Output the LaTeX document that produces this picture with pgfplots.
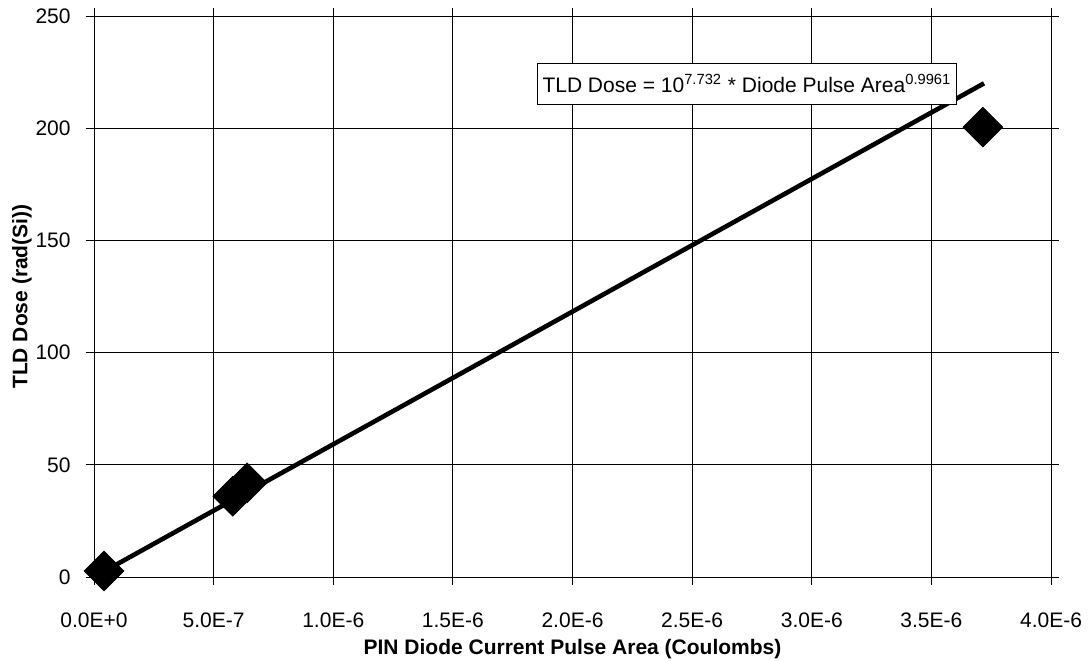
\documentclass[border=0pt]{standalone}
\usepackage{fontspec}
\setmainfont{Liberation Sans}
\usepackage{pgfplots}
\pgfplotsset{compat=1.18}
\begin{document}
\fontsize{10.5}{12.6}\selectfont
\begin{tikzpicture}
\begin{axis}[
  scale only axis, width=478.5pt, height=280.5pt,
  xmin=0, xmax=4e-6, ymin=0, ymax=250,
  xtick={0,0.5e-6,1e-6,1.5e-6,2e-6,2.5e-6,3e-6,3.5e-6,4e-6},
  xticklabels={0.0E+0,5.0E-7,1.0E-6,1.5E-6,2.0E-6,2.5E-6,3.0E-6,3.5E-6,4.0E-6},
  ytick={0,50,100,150,200,250},
  scaled x ticks=false, scaled y ticks=false,
  tick align=outside, major tick length=4pt,
  tick style={black, line width=0.5pt},
  grid=major, grid style={black, line width=0.5pt},
  axis line style={line width=0.5pt},
  x axis line style={line width=1pt},
  clip=false,
  /pgf/number format/assume math mode=true,
  ticklabel style={font=\fontsize{10.5}{12}\selectfont, inner sep=0pt},
  xticklabel style={anchor=north, yshift=-13.5pt},
  yticklabel style={anchor=east, xshift=-7.5pt},
  xticklabel shift=0pt, yticklabel shift=0pt,
  xlabel={\bfseries PIN Diode Current Pulse Area (Coulombs)},
  ylabel={\bfseries TLD Dose (rad(Si))},
  xlabel style={at={([yshift=-36pt]axis description cs:0.5,0)}, anchor=center, inner sep=0pt},
  ylabel style={at={([xshift=-36pt]axis description cs:0,0.5)}, anchor=center, inner sep=0pt},
]
\addplot[only marks, mark=square*, mark size=7pt, mark options={rotate=45, fill=black, draw=black}]
  coordinates {(0.042e-6,2.7) (0.58e-6,36) (0.64e-6,42) (3.715e-6,200.5)};
\addplot[black, line width=2.3pt, no marks] coordinates {(0.042e-6,2.5) (3.72e-6,220)};
\node[draw=black, fill=white, line width=0.5pt, inner xsep=2.5pt, minimum height=20.5pt, anchor=center]
  at (axis cs:2.729e-6,219.9) {TLD Dose = 10\textsuperscript{7.732} * Diode Pulse Area\textsuperscript{0.9961}};
\end{axis}
\pgfresetboundingbox
\path[use as bounding box] ([shift={(-47pt,-41.5pt)}]current axis.south west) rectangle ([shift={(19pt,8pt)}]current axis.north east);
\end{tikzpicture}
\end{document}
